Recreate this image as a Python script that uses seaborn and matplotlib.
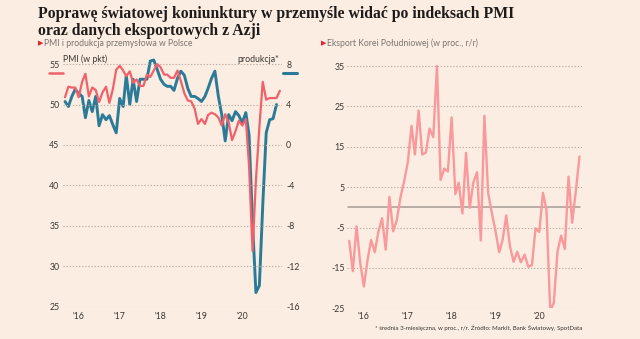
import numpy as np
import pandas as pd
import matplotlib
matplotlib.use("Agg")
import matplotlib.pyplot as plt
import seaborn as sns

# ---- data -------------------------------------------------------------
months = pd.date_range("2015-09-01", periods=64, freq="MS")

# PMI for Polish manufacturing, points
pmi = [50.9, 52.2, 52.1, 52.1, 50.9, 52.8, 53.8, 51.0, 52.1, 51.8, 50.3, 51.5,
       52.2, 50.2, 51.9, 54.3, 54.8, 54.2, 53.5, 54.1, 52.7, 53.1, 52.3, 52.3,
       53.7, 53.4, 54.2, 55.0, 54.6, 53.7, 53.7, 53.3, 53.3, 54.2, 52.9, 51.4,
       50.5, 50.4, 49.5, 47.6, 48.2, 47.6, 48.7, 49.0, 48.8, 48.4, 47.4, 48.8,
       47.8, 45.6, 46.7, 48.0, 47.4, 48.2, 42.4, 31.9, 40.6, 47.2, 52.8, 50.6,
       50.8, 50.8, 50.8, 51.7]

# industrial production, 3-month average, % y/y (through Nov 2020)
production = [4.3, 3.8, 4.8, 5.5, 5.1, 4.8, 2.7, 4.4, 3.3, 4.8, 1.9, 3.0,
              2.5, 2.9, 2.0, 1.2, 4.6, 3.8, 6.9, 4.0, 6.5, 4.3, 6.5, 6.5,
              6.5, 8.3, 8.4, 7.5, 6.5, 6.0, 5.8, 5.8, 5.4, 6.6, 7.3, 6.9,
              5.6, 4.8, 4.8, 4.6, 4.3, 4.8, 5.6, 6.6, 7.3, 4.8, 3.0, 0.4,
              3.0, 2.4, 3.3, 2.9, 2.2, 3.2, 1.0, -7.7, -14.6, -13.9, -6.0, 1.2,
              2.5, 2.6, 4.0]

# South Korean exports, % y/y
korea_exports = [-8.3, -15.8, -4.7, -13.6, -19.6, -13.0, -8.1, -11.1, -6.0, -2.7,
                 -10.5, 2.6, -5.9, -3.2, 2.5, 6.4, 11.2, 20.2, 13.1, 24.0,
                 13.1, 13.6, 19.5, 17.4, 35.0, 6.8, 9.6, 8.9, 22.3, 3.3,
                 6.1, -1.5, 13.5, -0.1, 6.2, 8.7, -8.2, 22.7, 3.6, -1.2,
                 -5.8, -11.1, -8.2, -2.0, -9.5, -13.5, -11.0, -13.6, -11.7, -14.7,
                 -14.3, -5.2, -6.1, 3.6, -0.7, -25.5, -23.7, -10.9, -7.0, -10.3,
                 7.6, -3.8, 4.1, 12.6]

year_ticks = pd.to_datetime(["2016-01-01", "2017-01-01", "2018-01-01",
                             "2019-01-01", "2020-01-01"])
year_labels = ["'16", "'17", "'18", "'19", "'20"]
pmi_ticks = [25, 30, 35, 40, 45, 50, 55]
prod_ticks = [-16, -12, -8, -4, 0, 4, 8]
export_ticks = [-25, -15, -5, 5, 15, 25, 35]

title = ("Poprawę światowej koniunktury w przemyśle widać po indeksach PMI\n"
         "oraz danych eksportowych z Azji")
sub_left = "PMI i produkcja przemysłowa w Polsce"
sub_right = "Eksport Korei Południowej (w proc., r/r)"
footnote = "* średnia 3-miesięczna, w proc., r/r. Źródło: Markit, Bank Światowy, SpotData"

df_pl = pd.DataFrame({"month": months, "pmi": pmi,
                      "production": production + [np.nan]})
df_kr = pd.DataFrame({"month": months, "exports": korea_exports})

# ---- style ------------------------------------------------------------
BG = "#FBEDE1"
RED = "#F0616A"
BLUE = "#2A7A98"
PINK = "#F9999C"
GRID = "#B9AEA5"
TXT = "#3A3633"

sns.set_theme(style="white", rc={"axes.facecolor": BG, "figure.facecolor": BG})
plt.rcParams["font.family"] = ["Lato", "DejaVu Sans"]
plt.rcParams["axes.unicode_minus"] = False

fig = plt.figure(figsize=(6.4, 3.39), dpi=100)
H = 339.0
W = 640.0


def box(x0, x1, ytop, ybot):
    return [x0 / W, 1 - ybot / H, (x1 - x0) / W, (ybot - ytop) / H]


pad_l = pd.Timedelta(days=18)
pad_r = pd.Timedelta(days=19)

# ---- left panel: PMI and production ------------------------------------
ax = fig.add_axes(box(63, 282, 56, 306.7))
ax2 = ax.twinx()
for a in (ax, ax2):
    for s in a.spines.values():
        s.set_visible(False)
ax.set_zorder(ax2.get_zorder() + 1)
ax2.set_facecolor(BG)
ax.patch.set_visible(False)

ax.set_ylim(25, 56)
ax2.set_ylim((25 - 45) * 0.8, (56 - 45) * 0.8)
for t in pmi_ticks:
    ax.axhline(t, color=GRID, lw=0.8, ls=(0, (1.2, 1.6)), zorder=0)

sns.lineplot(data=df_pl, x="month", y="production", ax=ax2, color=BLUE,
             lw=2.1, zorder=2)
sns.lineplot(data=df_pl, x="month", y="pmi", ax=ax, color=RED,
             lw=1.6, zorder=3)

ax.set_xlim(months[0] - pad_l, months[-1] + pad_r)
ax.set_xticks(year_ticks)
ax.set_xticklabels(year_labels)
ax.set_yticks(pmi_ticks)
ax2.set_yticks(prod_ticks)
ax.tick_params(axis="both", length=0, labelsize=6.3, colors=TXT)
ax.tick_params(axis="y", pad=2.5)
ax.tick_params(axis="x", pad=3.5)
ax2.tick_params(axis="y", length=0, labelsize=6.3, colors=TXT, pad=3)
ax.set_xlabel("")
ax.set_ylabel("")
ax2.set_ylabel("")

# ---- right panel: Korean exports ---------------------------------------
bx = fig.add_axes(box(346.7, 582, 56, 308.3))
for s in bx.spines.values():
    s.set_visible(False)
bx.set_ylim(-25, 37.5)
for t in export_ticks:
    bx.axhline(t, color=GRID, lw=0.8, ls=(0, (1.2, 1.6)), zorder=0)
bx.axhline(0, color="#A59D96", lw=1.1, zorder=1,
           xmin=1.5 / 235.3, xmax=233.5 / 235.3)
sns.lineplot(data=df_kr, x="month", y="exports", ax=bx, color=PINK,
             lw=1.7, zorder=3)
bx.set_xlim(months[0] - pd.Timedelta(days=21), months[-1] + pd.Timedelta(days=21))
bx.set_xticks(year_ticks)
bx.set_xticklabels(year_labels)
bx.set_yticks(export_ticks)
bx.tick_params(axis="both", length=0, labelsize=6.3, colors=TXT)
bx.tick_params(axis="y", pad=1.5)
bx.tick_params(axis="x", pad=2.5)
bx.set_xlabel("")
bx.set_ylabel("")

# ---- texts ----------------------------------------------------------------
fig.text(38 / W, 1 - 6 / H, title, ha="left", va="top",
         family=["Liberation Serif", "DejaVu Serif"], weight="bold",
         fontsize=11.3, color="#1E1B1A", linespacing=1.1)

for x0, txt in ((38, sub_left), (321, sub_right)):
    fig.text(x0 / W, 1 - 43.5 / H, "▶", ha="left", va="center",
             family=["DejaVu Sans"], fontsize=5, color="#E3262E")
    fig.text((x0 + 6) / W, 1 - 43.5 / H, txt, ha="left", va="center",
             fontsize=6.2, color="#7A7470")

fig.text(63 / W, 1 - 59.5 / H, "PMI (w pkt)", ha="left", va="center",
         fontsize=6.3, color=TXT)
fig.text(279 / W, 1 - 59.5 / H, "produkcja*", ha="right", va="center",
         fontsize=6.3, color=TXT)

# short colour keys beside the axes
fig.add_artist(plt.Line2D([49 / W, 63 / W], [1 - 73.3 / H] * 2, color=RED,
                          lw=1.8, transform=fig.transFigure))
fig.add_artist(plt.Line2D([283 / W, 297 / W], [1 - 73.3 / H] * 2, color=BLUE,
                          lw=2.2, transform=fig.transFigure))

fig.text(582 / W, 1 - 327.5 / H, footnote, ha="right", va="center",
         fontsize=4.4, color=TXT)

fig.savefig("out.png", dpi=100, facecolor=BG)
